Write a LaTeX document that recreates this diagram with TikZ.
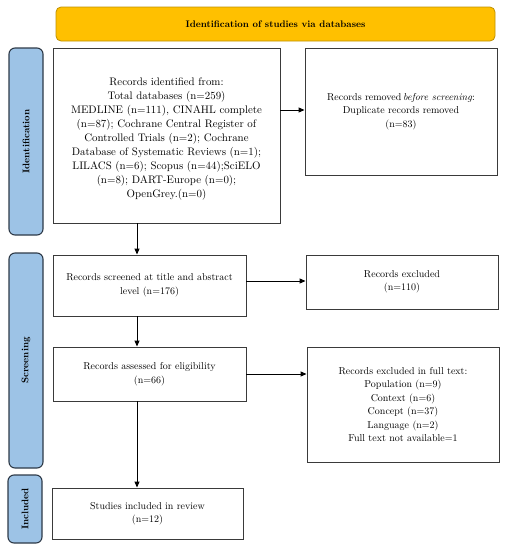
\documentclass[tikz,border=0pt]{standalone}
\usetikzlibrary{arrows.meta,calc}
\definecolor{bannerfill}{HTML}{FFC000}
\definecolor{bannerdraw}{HTML}{BF9000}
\definecolor{sidefill}{HTML}{9DC3E6}
\definecolor{sidedraw}{HTML}{2E3A48}
\definecolor{boxdraw}{HTML}{3A3A3A}
\begin{document}
\begin{tikzpicture}[x=1pt,y=-1pt,
  box/.style={draw=boxdraw,line width=0.95pt,rectangle,align=center,inner sep=2pt,
    font=\fontsize{10}{13.5}\selectfont},
  banner/.style={draw=bannerdraw,fill=bannerfill,line width=0.8pt,rounded corners=5pt,
    font=\fontsize{9.5}{12}\selectfont\bfseries},
  side/.style={draw=sidedraw,fill=sidefill,line width=1.1pt,rounded corners=6pt},
  sidetext/.style={rotate=90,font=\fontsize{9.6}{11}\selectfont\bfseries},
  arr/.style={line width=1pt,draw=black,-{Triangle[length=6pt,width=5pt]}}]
\useasboundingbox (0,0) rectangle (509,550);
% banner
\node[banner,minimum width=439pt,minimum height=34pt] (ban) at (275.5,24) {Identification of studies via databases};
% side bars
\node[side,minimum width=34pt,minimum height=187pt] (sid) at (26,141.5) {};
\node[sidetext] (sidt) at (sid.center) {Identification};
\node[side,minimum width=34pt,minimum height=215pt] (scr) at (26,360.5) {};
\node[sidetext] (scrt) at (scr.center) {Screening};
\node[side,minimum width=34pt,minimum height=68pt] (inc) at (25,509) {};
\node[sidetext] (inct) at (inc.center) {Included};
% boxes
\node[box,font=\fontsize{10.9}{14}\selectfont,minimum width=227pt,minimum height=175pt] (b1) at (166.5,135.5) {\rule{0pt}{14.5pt}Records identified from:\\
Total databases (n=259)\\
MEDLINE (n=111), CINAHL complete\\
(n=87); Cochrane Central Register of\\
Controlled Trials (n=2); Cochrane\\
Database of Systematic Reviews (n=1);\\
LILACS (n=6); Scopus (n=44);SciELO\\
(n=8); DART-Europe (n=0);\\
OpenGrey.(n=0)};
\node[box,minimum width=192pt,minimum height=127pt] (b2) at (401,111.5) {Records removed\,\textit{before screening}:\\
Duplicate records removed\\
(n=83)};
\node[box,minimum width=193pt,minimum height=61pt] (b3) at (149.5,285.5) {Records screened at title and abstract\\ level (n=176)};
\node[box,minimum width=193pt,minimum height=54pt] (b4) at (149.5,374) {Records assessed for eligibility\\ (n=66)};
\node[box,minimum width=192pt,minimum height=54pt] (b5) at (402,282) {Records excluded\\ (n=110)};
\node[box,minimum width=192pt,minimum height=115pt] (b6) at (403,404.5) {Records excluded in full text:\\
Population (n=9)\\
Context (n=6)\\
Concept (n=37)\\
Language (n=2)\\
Full text not available=1};
\node[box,minimum width=191pt,minimum height=51pt] (b7) at (147.5,513.5) {Studies included in review\\ (n=12)};
% arrows
\coordinate (ax) at (137,0);
\coordinate (ay1) at (0,110);
\coordinate (ay2) at (0,281);
\draw[arr] (b1.south -| ax) -- (b3.north -| ax);
\draw[arr] (b3.south -| ax) -- (b4.north -| ax);
\draw[arr] (b4.south -| ax) -- (b7.north -| ax);
\draw[arr] (b1.east |- ay1) -- (b2.west |- ay1);
\draw[arr] (b3.east |- ay2) -- (b5.west |- ay2);
\draw[arr] (b4.east) -- (b6.west |- b4.east);
\end{tikzpicture}
\end{document}
